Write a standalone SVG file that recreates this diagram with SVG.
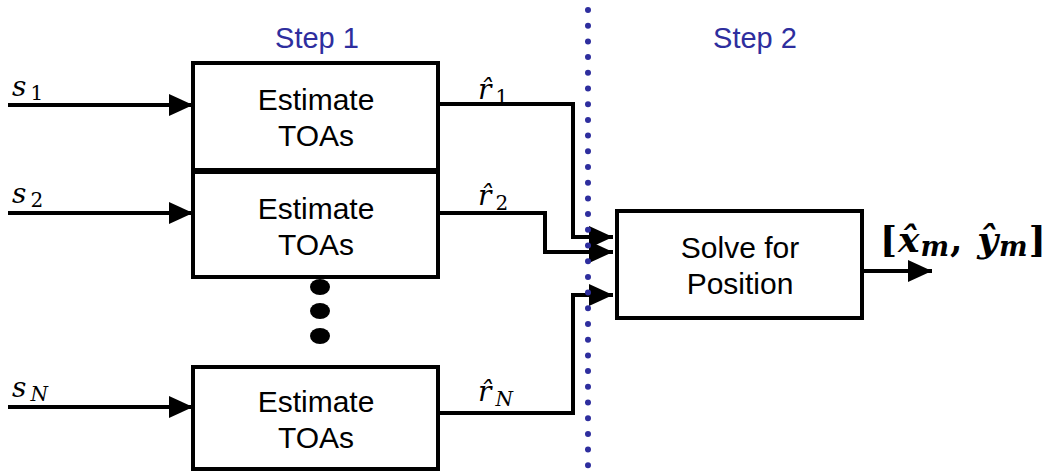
<svg xmlns="http://www.w3.org/2000/svg" width="1052" height="473" viewBox="0 0 1052 473">
<defs>
<marker id="ah" markerWidth="24" markerHeight="22" refX="24" refY="11" orient="auto" markerUnits="userSpaceOnUse">
<path d="M0,0 L24,11 L0,22 Z" fill="#000"/>
</marker>
<style>
.box{fill:#fff;stroke:#000;stroke-width:4}
.lbl{font-family:"Liberation Sans",Arial,sans-serif;font-size:30px;fill:#000;text-anchor:middle}
.step{font-family:"Liberation Sans",Arial,sans-serif;font-size:29px;fill:#2e2e9e;text-anchor:middle}
.wire{fill:none;stroke:#000;stroke-width:4}
.math{font-family:"DejaVu Serif","Liberation Serif",serif;font-style:italic;font-size:28px;fill:#000}
.sub{font-style:normal;font-size:20px}
.subi{font-style:italic;font-size:20px}
</style>
</defs>
<rect width="1052" height="473" fill="#fff"/>
<text class="step" x="317" y="48">Step 1</text>
<text class="step" x="755" y="48">Step 2</text>
<g id="connectors">
<line class="wire" x1="8" y1="105" x2="193" y2="105" marker-end="url(#ah)"/>
<line class="wire" x1="8" y1="213" x2="193" y2="213" marker-end="url(#ah)"/>
<line class="wire" x1="8" y1="407" x2="193" y2="407" marker-end="url(#ah)"/>
<polyline class="wire" points="438,104 573,104 573,237 613,237" marker-end="url(#ah)"/>
<polyline class="wire" points="438,213 545,213 545,252 613,252" marker-end="url(#ah)"/>
<polyline class="wire" points="438,413 573,413 573,295 613,295" marker-end="url(#ah)"/>
<line class="wire" x1="862" y1="271" x2="932" y2="271" marker-end="url(#ah)"/>
</g>
<g id="divider">
<line x1="588" y1="10" x2="588" y2="466" stroke="#2e2e9e" stroke-width="6" stroke-linecap="round" stroke-dasharray="0 15.7"/>
</g>
<g id="node-est1">
<rect class="box" x="193" y="63" width="245" height="107"/>
<text class="lbl" x="316" y="110">Estimate</text>
<text class="lbl" x="316" y="146">TOAs</text>
</g>
<g id="node-est2">
<rect class="box" x="193" y="172" width="245" height="105"/>
<text class="lbl" x="316" y="219">Estimate</text>
<text class="lbl" x="316" y="255">TOAs</text>
</g>
<g id="node-estN">
<rect class="box" x="193" y="367" width="245" height="102"/>
<text class="lbl" x="316" y="412">Estimate</text>
<text class="lbl" x="316" y="448">TOAs</text>
</g>
<g id="node-solve">
<rect class="box" x="617" y="211" width="245" height="107"/>
<text class="lbl" x="740" y="258">Solve for</text>
<text class="lbl" x="740" y="294">Position</text>
</g>
<g id="ellipsis">
<ellipse cx="320" cy="287" rx="10" ry="8" fill="#000"/>
<ellipse cx="320" cy="311" rx="10" ry="8" fill="#000"/>
<ellipse cx="320" cy="336" rx="10" ry="8" fill="#000"/>
</g>
<g id="labels">
<text class="math" x="12" y="96">s<tspan class="sub" dx="4" dy="4">1</tspan></text>
<text class="math" x="12" y="203">s<tspan class="sub" dx="4" dy="4">2</tspan></text>
<text class="math" x="12" y="397">s<tspan class="subi" dx="4" dy="4">N</tspan></text>
<text class="math" x="478" y="99" font-size="32">r̂<tspan class="sub" dx="4" dy="5" font-size="23">1</tspan></text>
<text class="math" x="478" y="205" font-size="32">r̂<tspan class="sub" dx="4" dy="5" font-size="23">2</tspan></text>
<text class="math" x="478" y="401" font-size="32">r̂<tspan class="subi" dx="4" dy="5" font-size="23">N</tspan></text>
<text x="880" y="252" font-family="DejaVu Serif,Liberation Serif,serif" font-size="36" font-weight="bold" fill="#000" letter-spacing="1">[<tspan font-style="italic">x̂</tspan><tspan font-style="italic" font-size="27" dy="4">m</tspan><tspan dy="-4">, </tspan><tspan font-style="italic">ŷ</tspan><tspan font-style="italic" font-size="27" dy="4">m</tspan><tspan dy="-4">]</tspan></text>
</g>
</svg>
